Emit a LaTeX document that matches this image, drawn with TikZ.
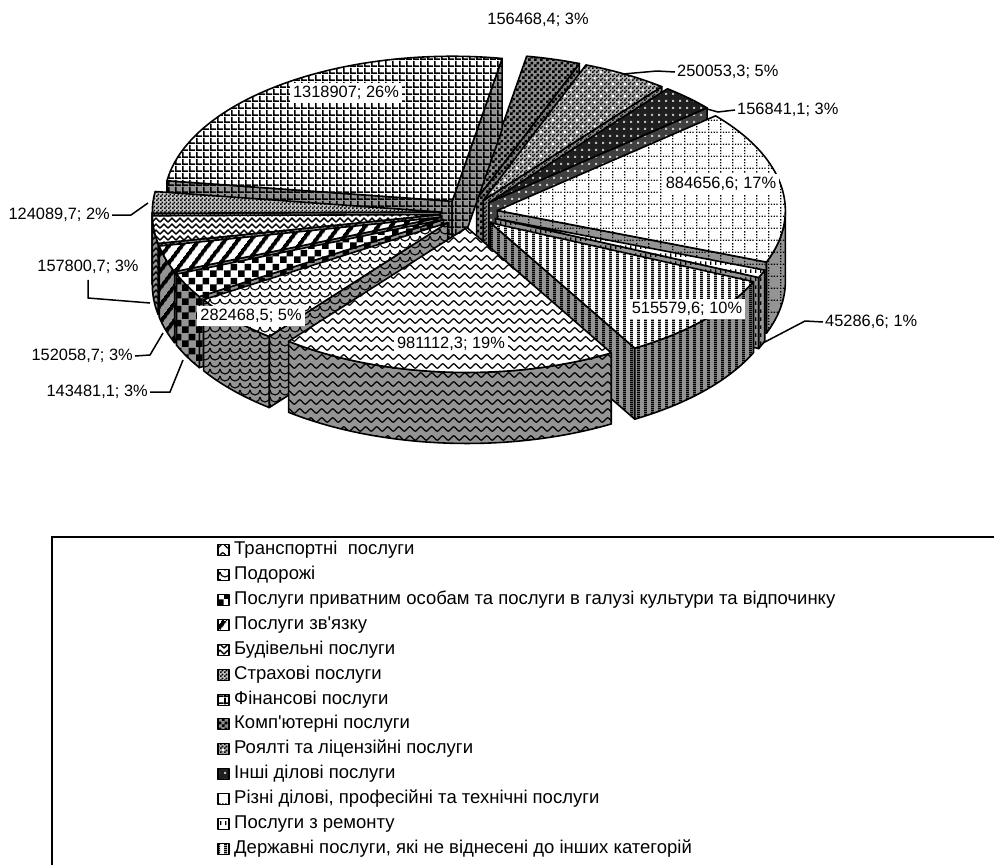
\documentclass[tikz,border=0pt]{standalone}
\usepackage{fontspec}
\setmainfont{Liberation Sans}
\usetikzlibrary{patterns,patterns.meta}

\pgfdeclarepatternformonly{pgrid}{\pgfpointorigin}{\pgfpoint{7pt}{7pt}}{\pgfpoint{7pt}{7pt}}{%
  \pgfpathrectangle{\pgfpointorigin}{\pgfpoint{1.9pt}{7pt}}%
  \pgfpathrectangle{\pgfpointorigin}{\pgfpoint{7pt}{1.9pt}}%
  \pgfusepath{fill}}
\pgfdeclarepatternformonly{pvstripe}{\pgfpointorigin}{\pgfpoint{7pt}{2pt}}{\pgfpoint{7pt}{2pt}}{%
  \pgfpathrectangle{\pgfpointorigin}{\pgfpoint{3.2pt}{2pt}}\pgfusepath{fill}}
\pgfdeclarepatternformonly{pchkbig}{\pgfpointorigin}{\pgfpoint{14pt}{14pt}}{\pgfpoint{14pt}{14pt}}{%
  \pgfpathrectangle{\pgfpointorigin}{\pgfpoint{7pt}{7pt}}%
  \pgfpathrectangle{\pgfpoint{7pt}{7pt}}{\pgfpoint{7pt}{7pt}}\pgfusepath{fill}}
\pgfdeclarepatternformonly{pchkmid}{\pgfpointorigin}{\pgfpoint{6pt}{6pt}}{\pgfpoint{6pt}{6pt}}{%
  \pgfpathrectangle{\pgfpointorigin}{\pgfpoint{3pt}{3pt}}%
  \pgfpathrectangle{\pgfpoint{3pt}{3pt}}{\pgfpoint{3pt}{3pt}}\pgfusepath{fill}}
\pgfdeclarepatternformonly{pchksmall}{\pgfpointorigin}{\pgfpoint{4pt}{4pt}}{\pgfpoint{4pt}{4pt}}{%
  \pgfpathrectangle{\pgfpointorigin}{\pgfpoint{2pt}{2pt}}%
  \pgfpathrectangle{\pgfpoint{2pt}{2pt}}{\pgfpoint{2pt}{2pt}}\pgfusepath{fill}}
\pgfdeclarepatternformonly{pdots8}{\pgfpointorigin}{\pgfpoint{7pt}{7pt}}{\pgfpoint{7pt}{7pt}}{%
  \pgfpathrectangle{\pgfpointorigin}{\pgfpoint{2.3pt}{2.3pt}}\pgfusepath{fill}}
\pgfdeclarepatternformonly{pwdots}{\pgfpointorigin}{\pgfpoint{12pt}{12pt}}{\pgfpoint{12pt}{12pt}}{%
  \pgfpathrectangle{\pgfpointorigin}{\pgfpoint{2.2pt}{2.2pt}}%
  \pgfpathrectangle{\pgfpoint{6pt}{6pt}}{\pgfpoint{2.2pt}{2.2pt}}\pgfusepath{fill}}
\pgfdeclarepatternformonly{pdotgrid}{\pgfpointorigin}{\pgfpoint{12pt}{12pt}}{\pgfpoint{12pt}{12pt}}{%
  \pgfpathrectangle{\pgfpoint{0pt}{0pt}}{\pgfpoint{1.5pt}{1.5pt}}%
  \pgfpathrectangle{\pgfpoint{3pt}{0pt}}{\pgfpoint{1.5pt}{1.5pt}}%
  \pgfpathrectangle{\pgfpoint{6pt}{0pt}}{\pgfpoint{1.5pt}{1.5pt}}%
  \pgfpathrectangle{\pgfpoint{9pt}{0pt}}{\pgfpoint{1.5pt}{1.5pt}}%
  \pgfpathrectangle{\pgfpoint{0pt}{3pt}}{\pgfpoint{1.5pt}{1.5pt}}%
  \pgfpathrectangle{\pgfpoint{0pt}{6pt}}{\pgfpoint{1.5pt}{1.5pt}}%
  \pgfpathrectangle{\pgfpoint{0pt}{9pt}}{\pgfpoint{1.5pt}{1.5pt}}%
  \pgfusepath{fill}}
\pgfdeclarepatternformonly{pdash}{\pgfpointorigin}{\pgfpoint{5pt}{8pt}}{\pgfpoint{5pt}{8pt}}{%
  \pgfpathrectangle{\pgfpointorigin}{\pgfpoint{1.6pt}{4pt}}\pgfusepath{fill}}
\pgfdeclarepatternformonly{pweave}{\pgfpoint{-1pt}{-1pt}}{\pgfpoint{9pt}{7pt}}{\pgfpoint{8pt}{6pt}}{%
  \pgfsetlinewidth{1.4pt}%
  \pgfpathmoveto{\pgfpoint{0pt}{0.8pt}}%
  \pgfpathlineto{\pgfpoint{4pt}{4.8pt}}%
  \pgfpathlineto{\pgfpoint{8pt}{0.8pt}}%
  \pgfusepath{stroke}}
\pgfdeclarepatternformonly{pwave}{\pgfpoint{-1pt}{-1pt}}{\pgfpoint{12pt}{10pt}}{\pgfpoint{11pt}{9pt}}{%
  \pgfsetlinewidth{1.2pt}%
  \pgfpathmoveto{\pgfpoint{0pt}{4pt}}%
  \pgfpathcurveto{\pgfpoint{2.75pt}{7pt}}{\pgfpoint{2.75pt}{7pt}}{\pgfpoint{5.5pt}{4pt}}%
  \pgfpathcurveto{\pgfpoint{8.25pt}{1pt}}{\pgfpoint{8.25pt}{1pt}}{\pgfpoint{11pt}{4pt}}%
  \pgfusepath{stroke}}
\pgfdeclarepatternformonly{pscale}{\pgfpoint{-1pt}{-1pt}}{\pgfpoint{11pt}{8pt}}{\pgfpoint{10pt}{7pt}}{%
  \pgfsetlinewidth{1.1pt}%
  \pgfpathmoveto{\pgfpoint{0pt}{6pt}}%
  \pgfpatharc{180}{360}{5pt}%
  \pgfusepath{stroke}}

\newcommand\labfont{\fontsize{16.4}{19}\selectfont}
\newcommand\legfont{\fontsize{18.5}{21}\selectfont}

\def\pcCX{469}
\def\pcCY{-213}
\def\pcRX{288}
\def\pcRY{145}
\def\pcE{0.1}
\def\pcH{71}

\newcommand\pcslice[4]{%
  \pgfmathsetmacro\pcbis{(#1+#2)/2}%
  \pgfmathsetmacro\pcax{\pcCX+\pcE*\pcRX*sin(\pcbis)}%
  \pgfmathsetmacro\pcay{\pcCY+\pcE*\pcRY*cos(\pcbis)}%
  \pgfmathsetmacro\pcsa{sin(#1)}%
  \pgfmathsetmacro\pcsb{sin(#2)}%
  \pgfmathsetmacro\pcpa{max(#1,90)}%
  \pgfmathsetmacro\pcpb{min(#2,270)}%
  \ifdim\pcsa pt<0pt
    \draw[#4] (\pcax,\pcay) -- ({\pcax+\pcRX*sin(#1)},{\pcay+\pcRY*cos(#1)}) -- ++(0,-\pcH) -- (\pcax,{\pcay-\pcH}) -- cycle;
  \fi
  \ifdim\pcsb pt>0pt
    \draw[#4] (\pcax,\pcay) -- ({\pcax+\pcRX*sin(#2)},{\pcay+\pcRY*cos(#2)}) -- ++(0,-\pcH) -- (\pcax,{\pcay-\pcH}) -- cycle;
  \fi
  \ifdim\pcpa pt<\pcpb pt
    \draw[#4] ({\pcax+\pcRX*sin(\pcpa)},{\pcay+\pcRY*cos(\pcpa)}) arc[start angle={90-\pcpa}, end angle={90-\pcpb}, x radius=\pcRX pt, y radius=\pcRY pt] -- ++(0,-\pcH) arc[start angle={90-\pcpb}, end angle={90-\pcpa}, x radius=\pcRX pt, y radius=\pcRY pt] -- cycle;
  \fi
  \draw[#3] (\pcax,\pcay) -- ({\pcax+\pcRX*sin(#1)},{\pcay+\pcRY*cos(#1)}) arc[start angle={90-#1}, end angle={90-#2}, x radius=\pcRX pt, y radius=\pcRY pt] -- cycle;
}

\colorlet{sidegray}{black!42}
\tikzset{
  pcline/.style={draw=black, line width=1.6pt, line join=round},
  t1/.style={preaction={fill=black!45}, preaction={pattern=pchkmid}, pcline},
  s1/.style={preaction={fill=black!50}, preaction={pattern=pchkmid}, pcline},
  t2/.style={preaction={fill=black!30}, preaction={pattern=pchksmall}, preaction={pattern=pwdots, pattern color=white}, pcline},
  s2/.style={preaction={fill=black!45}, preaction={pattern=pchksmall}, pcline},
  t3/.style={preaction={fill=black!88}, preaction={pattern=pdots8, pattern color=gray!55}, pcline},
  s3/.style={preaction={fill=black!75}, preaction={pattern=pdots8, pattern color=gray!45}, pcline},
  t4/.style={preaction={fill=white}, preaction={pattern=pdotgrid}, pcline},
  s4/.style={preaction={fill=sidegray}, preaction={pattern=pdotgrid}, pcline},
  t5/.style={preaction={fill=white}, preaction={pattern=pdash}, pcline},
  s5/.style={preaction={fill=sidegray}, preaction={pattern=pdash}, pcline},
  t6/.style={preaction={fill=white}, preaction={pattern=pvstripe}, pcline},
  s6/.style={preaction={fill=sidegray}, preaction={pattern=pvstripe}, pcline},
  t7/.style={preaction={fill=white}, preaction={pattern=pwave}, pcline},
  s7/.style={preaction={fill=sidegray}, preaction={pattern=pwave}, pcline},
  t8/.style={preaction={fill=white}, preaction={pattern=pscale}, pcline},
  s8/.style={preaction={fill=sidegray}, preaction={pattern=pscale}, pcline},
  t9/.style={preaction={fill=white}, preaction={pattern=pchkbig}, pcline},
  s9/.style={preaction={fill=sidegray}, preaction={pattern=pchkbig}, pcline},
  t10/.style={preaction={fill=white}, preaction={pattern={Lines[angle=53,distance=10.5pt,line width=4.5pt]}}, pcline},
  s10/.style={preaction={fill=sidegray}, preaction={pattern={Lines[angle=53,distance=10.5pt,line width=4.5pt]}}, pcline},
  t11/.style={preaction={fill=white}, preaction={pattern=pweave}, pcline},
  s11/.style={preaction={fill=sidegray}, preaction={pattern=pweave}, pcline},
  t12/.style={preaction={fill=black!22}, preaction={pattern=pchksmall}, pcline},
  s12/.style={preaction={fill=sidegray}, preaction={pattern=pchksmall}, pcline},
  t13/.style={preaction={fill=white}, preaction={pattern=pgrid}, pcline},
  s13/.style={preaction={fill=sidegray}, preaction={pattern=pgrid}, pcline},
  lbox/.style={fill=white, inner xsep=3pt, inner ysep=3pt, font=\labfont},
  lplain/.style={inner sep=0pt, font=\labfont},
  leader/.style={draw=black, line width=1.5pt},
  icon/.style={minimum width=11pt, minimum height=11pt, inner sep=0pt, line width=1.2pt},
  legtext/.style={anchor=west, inner sep=0pt, font=\legfont},
}

\begin{document}
\begin{tikzpicture}[x=1pt,y=1pt]
\useasboundingbox (0,0) rectangle (994,-865);
\clip (0,0) rectangle (994,-865);
\fill[white] (0,0) rectangle (994,-865);

% pie slices, back to front
\pcslice{10}{20.90}{t1}{s1}
\pcslice{20.90}{38.31}{t2}{s2}
\pcslice{38.31}{49.24}{t3}{s3}
\pcslice{278.14}{370}{t13}{s13}
\pcslice{49.24}{110.85}{t4}{s4}
\pcslice{269.50}{278.14}{t12}{s12}
\pcslice{258.51}{269.50}{t11}{s11}
\pcslice{247.92}{258.51}{t10}{s10}
\pcslice{110.85}{114.01}{t5}{s5}
\pcslice{237.92}{247.92}{t9}{s9}
\pcslice{218.25}{237.92}{t8}{s8}
\pcslice{114.01}{149.92}{t6}{s6}
\pcslice{149.92}{218.25}{t7}{s7}

% data labels
\node[lbox] (v13) at (346,-93) {1318907; 26\%};
\node[lbox] (v4) at (721,-184) {884656,6; 17\%};
\node[lbox] (v6) at (687,-309) {515579,6; 10\%};
\node[lbox] (v7) at (451,-344) {981112,3; 19\%};
\node[lbox] (v8) at (251,-316) {282468,5; 5\%};
\node[lplain] (v1) at (538,-20) {156468,4; 3\%};
\node[lplain, anchor=west] (v2) at (677,-72) {250053,3; 5\%};
\node[lplain, anchor=west] (v3) at (737,-110) {156841,1; 3\%};
\node[lplain, anchor=west] (v5) at (825,-322) {45286,6; 1\%};
\node[lplain, anchor=east] (v9) at (148,-392) {143481,1; 3\%};
\node[lplain, anchor=east] (v10) at (133,-356) {152058,7; 3\%};
\node[lplain] (v11) at (88,-267) {157800,7; 3\%};
\node[lplain, anchor=east] (v12) at (110,-215) {124089,7; 2\%};

% leader lines
\coordinate (c2) at (623,-74);
\coordinate (c3) at (707,-109);
\coordinate (c5) at (763,-343);
\coordinate (c9) at (183,-360);
\coordinate (c10) at (163,-333);
\coordinate (c11) at (150,-303);
\coordinate (c12) at (148,-203);
\draw[leader] (c2) -- (657,-71) -- ([xshift=-2pt]v2.west);
\draw[leader] (c3) -- (718,-112) -- ([xshift=-2pt]v3.west);
\draw[leader] (c5) -- (805,-321) -- ([xshift=-2pt]v5.west);
\draw[leader] (c9) -- (170,-392) -- ([xshift=2pt]v9.east);
\draw[leader] (c10) -- (150,-355) -- ([xshift=2pt]v10.east);
\draw[leader] (c11) -- (88,-298) -- ([yshift=-6pt]v11.south);
\draw[leader] (c12) -- (131,-215) -- ([xshift=2pt]v12.east);

% legend
\draw[line width=1.5pt] (52,-537) rectangle (1010,-880);
\node[t7, icon] (i1) at (223.5,-550) {};
\node[t8, icon] (i2) at (223.5,-575) {};
\node[t9, icon] (i3) at (223.5,-600) {};
\node[t10, icon] (i4) at (223.5,-625) {};
\node[t11, icon] (i5) at (223.5,-650) {};
\node[t12, icon] (i6) at (223.5,-675) {};
\node[t13, icon] (i7) at (223.5,-700) {};
\node[t1, icon] (i8) at (223.5,-724) {};
\node[t2, icon] (i9) at (223.5,-749) {};
\node[t3, icon] (i10) at (223.5,-774) {};
\node[t4, icon] (i11) at (223.5,-799) {};
\node[t5, icon] (i12) at (223.5,-824) {};
\node[t6, icon] (i13) at (223.5,-849) {};
\node[legtext] (g1) at (234,-550) {Транспортні\ \ послуги};
\node[legtext] (g2) at (234,-575) {Подорожі};
\node[legtext] (g3) at (234,-600) {Послуги приватним особам та послуги в галузі культури та відпочинку};
\node[legtext] (g4) at (234,-625) {Послуги зв\textquotesingle язку};
\node[legtext] (g5) at (234,-650) {Будівельні послуги};
\node[legtext] (g6) at (234,-675) {Страхові послуги};
\node[legtext] (g7) at (234,-700) {Фінансові послуги};
\node[legtext] (g8) at (234,-724) {Комп\textquotesingle ютерні послуги};
\node[legtext] (g9) at (234,-749) {Роялті та ліцензійні послуги};
\node[legtext] (g10) at (234,-774) {Інші ділові послуги};
\node[legtext] (g11) at (234,-799) {Різні ділові, професійні та технічні послуги};
\node[legtext] (g12) at (234,-824) {Послуги з ремонту};
\node[legtext] (g13) at (234,-849) {Державні послуги, які не віднесені до інших категорій};
\end{tikzpicture}
\end{document}
